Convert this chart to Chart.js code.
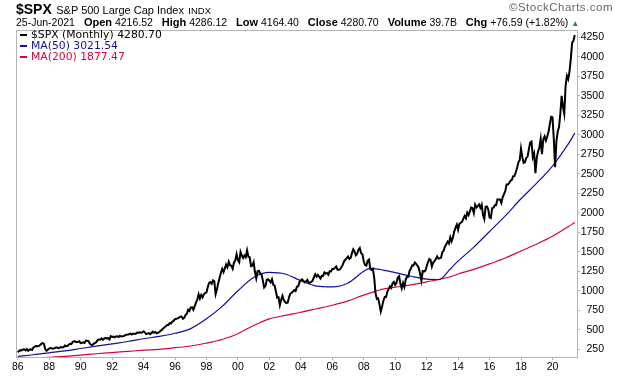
<!DOCTYPE html>
<html lang="en">
<head>
    <meta charset="UTF-8">
    <title>$SPX Monthly</title>
    <script src="https://cdn.jsdelivr.net/npm/chart.js"></script>
    <style>
        body {
            margin: 0;
            background: #fff;
            font-family: Arial, "Liberation Sans", sans-serif;
            color: #000;
        }
        .wrap {
            position: relative;
            width: 620px;
            height: 376px;
            overflow: hidden;
        }
        canvas {
            position: absolute;
            left: 0;
            top: 0;
        }
        .row {
            position: absolute;
            white-space: nowrap;
        }
        .sym { font-size: 14px; font-weight: bold; }
        .name { font-size: 11px; }
        .exch { font-size: 9.5px; }
        .brand { font-size: 11.5px; color: #666; letter-spacing: 0.5px; }
        .quote { font-size: 10.5px; }
        .quote b { font-size: 11px; margin-left: 6px; }
        .up { color: #1a8a2a; font-size: 8px; }
        .legend {
            position: absolute;
            left: 20px;
            font-family: "DejaVu Sans", Verdana, sans-serif;
            font-size: 10.8px;
            white-space: nowrap;
            line-height: 11px;
        }
        .legend i {
            display: inline-block;
            width: 7px;
            height: 2px;
            vertical-align: middle;
            margin-right: 4px;
        }
    </style>
</head>
<body>
<div class="wrap">
    <canvas id="spxChart" width="620" height="376"></canvas>

    <div class="row" style="left:16px; top:0px;">
        <span class="sym">$SPX</span> <span class="name">S&amp;P 500 Large Cap Index</span> <span class="exch">INDX</span>
    </div>
    <div class="row brand" style="right:7px; top:1px;">&copy;StockCharts.com</div>
    <div class="row quote" style="left:16px; top:16px;">
        25-Jun-2021 <b>Open</b> 4216.52 <b>High</b> 4286.12 <b>Low</b> 4164.40 <b>Close</b> 4280.70 <b>Volume</b> 39.7B <b>Chg</b> +76.59 (+1.82%) <span class="up">&#9650;</span>
    </div>

    <div class="legend" style="top:29px;">
        <div><i style="background:#000"></i>$SPX (Monthly) 4280.70</div>
        <div style="color:#10109a"><i style="background:#10109a"></i>MA(50) 3021.54</div>
        <div style="color:#d4073a"><i style="background:#d4073a"></i>MA(200) 1877.47</div>
    </div>
</div>

<script>
    // monthly closes, Jan 1986 .. Jun 2021
    const startYear = 1986;
    const spxMonthly = [
        211.8, 226.9, 238.9, 235.5, 247.4, 250.8, 236.1, 252.9, 231.3, 244.0, 249.2, 242.2,
        274.1, 284.2, 291.7, 288.4, 290.1, 304.0, 318.7, 329.8, 321.8, 251.8, 230.3, 247.1,
        257.1, 267.8, 258.9, 261.3, 262.2, 273.5, 272.0, 261.5, 271.9, 279.0, 273.7, 277.7,
        297.5, 288.9, 294.9, 309.6, 320.5, 318.0, 346.1, 351.5, 349.2, 340.4, 346.0, 353.4,
        329.1, 331.9, 339.9, 330.8, 361.2, 358.0, 356.2, 322.6, 306.1, 304.0, 322.2, 330.2,
        343.9, 367.1, 375.2, 375.3, 389.8, 371.2, 387.8, 395.4, 387.9, 392.5, 375.2, 417.1,
        408.8, 412.7, 403.7, 414.9, 415.4, 408.1, 424.2, 414.0, 417.8, 418.7, 431.4, 435.7,
        438.8, 443.4, 451.7, 440.2, 450.2, 450.5, 448.1, 463.6, 458.9, 467.8, 461.8, 466.5,
        481.6, 467.1, 445.8, 450.9, 456.5, 444.3, 458.3, 475.5, 462.7, 472.4, 453.7, 459.3,
        470.4, 487.4, 500.7, 514.7, 533.4, 544.8, 562.1, 561.9, 584.4, 581.5, 605.4, 615.9,
        636.0, 640.4, 645.5, 654.2, 669.1, 670.6, 639.9, 652.0, 687.3, 705.3, 757.0, 740.7,
        786.2, 790.8, 757.1, 801.3, 848.3, 885.1, 954.3, 899.5, 947.3, 914.6, 955.4, 970.4,
        980.3, 1049.3, 1101.8, 1111.8, 1090.8, 1133.8, 1120.7, 957.3, 1017.0, 1098.7, 1163.6, 1229.2,
        1279.6, 1238.3, 1286.4, 1335.2, 1301.8, 1372.7, 1328.7, 1320.4, 1282.7, 1362.9, 1389.0, 1469.3,
        1394.5, 1366.4, 1498.6, 1452.4, 1420.6, 1454.6, 1430.8, 1517.7, 1436.5, 1429.4, 1315.2, 1320.3,
        1366.0, 1239.9, 1160.3, 1249.5, 1255.8, 1224.4, 1211.2, 1133.6, 1040.9, 1059.8, 1139.5, 1148.1,
        1130.2, 1106.7, 1147.4, 1076.9, 1067.1, 989.8, 911.6, 916.1, 815.3, 885.8, 936.3, 879.8,
        855.7, 841.2, 848.2, 916.9, 963.6, 974.5, 990.3, 1008.0, 996.0, 1050.7, 1058.2, 1111.9,
        1131.1, 1144.9, 1126.2, 1107.3, 1120.7, 1140.8, 1101.7, 1104.2, 1114.6, 1130.2, 1173.8, 1211.9,
        1181.3, 1203.6, 1180.6, 1156.9, 1191.5, 1191.3, 1234.2, 1220.3, 1228.8, 1207.0, 1249.5, 1248.3,
        1280.1, 1280.7, 1294.8, 1310.6, 1270.1, 1270.2, 1276.7, 1303.8, 1335.9, 1377.9, 1400.6, 1418.3,
        1438.2, 1406.8, 1420.9, 1482.4, 1530.6, 1503.4, 1455.3, 1474.0, 1526.8, 1549.4, 1481.1, 1468.4,
        1378.6, 1330.6, 1322.7, 1385.6, 1400.4, 1280.0, 1267.4, 1282.8, 1166.4, 968.8, 896.2, 903.3,
        825.9, 735.1, 797.9, 872.8, 919.1, 919.3, 987.5, 1020.6, 1057.1, 1036.2, 1095.6, 1115.1,
        1073.9, 1104.5, 1169.4, 1186.7, 1089.4, 1030.7, 1101.6, 1049.3, 1141.2, 1183.3, 1180.6, 1257.6,
        1286.1, 1327.2, 1325.8, 1363.6, 1345.2, 1320.6, 1292.3, 1218.9, 1131.4, 1253.3, 1247.0, 1257.6,
        1312.4, 1365.7, 1408.5, 1397.9, 1310.3, 1362.2, 1379.3, 1406.6, 1440.7, 1412.2, 1416.2, 1426.2,
        1498.1, 1514.7, 1569.2, 1597.6, 1630.7, 1606.3, 1685.7, 1633.0, 1681.6, 1756.5, 1805.8, 1848.4,
        1782.6, 1859.5, 1872.3, 1884.0, 1923.6, 1960.2, 1930.7, 2003.4, 1972.3, 2018.1, 2067.6, 2058.9,
        1995.0, 2104.5, 2067.9, 2085.5, 2107.4, 2063.1, 2103.8, 1972.2, 1920.0, 2079.4, 2080.4, 2043.9,
        1940.2, 1932.2, 2059.7, 2065.3, 2097.0, 2098.9, 2173.6, 2171.0, 2168.3, 2126.2, 2198.8, 2238.8,
        2278.9, 2363.6, 2362.7, 2384.2, 2411.8, 2423.4, 2470.3, 2471.7, 2519.4, 2575.3, 2647.6, 2673.6,
        2823.8, 2713.8, 2640.9, 2648.1, 2705.3, 2718.4, 2816.3, 2901.5, 2914.0, 2711.7, 2760.2, 2506.9,
        2704.1, 2784.5, 2834.4, 2945.8, 2752.1, 2941.8, 2980.4, 2926.5, 2976.7, 3037.6, 3141.0, 3230.8,
        3225.5, 2954.2, 2584.6, 2912.4, 3044.3, 3100.3, 3271.1, 3500.3, 3363.0, 3270.0, 3621.6, 3756.1,
        3714.2, 3811.2, 3972.9, 4181.2, 4204.1, 4280.7
    ];

    // moving averages
    const maYears = [
        1986, 1987, 1988, 1989, 1990, 1991, 1992, 1993, 1994, 1995, 1996, 1997, 1998, 1999,
        2000, 2001, 2002, 2003, 2004, 2005, 2006, 2007, 2008, 2008.4, 2009, 2010, 2011, 2012,
        2012.8, 2013.5, 2014, 2015, 2016, 2017, 2018, 2019, 2020, 2021, 2021.42
    ];
    const ma50 = [
        160, 180, 205, 230, 260, 290, 320, 350, 385, 415, 455, 515, 640, 800,
        1000, 1170, 1235, 1215, 1130, 1060, 1050, 1100, 1250, 1288, 1275, 1232, 1186, 1150,
        1145, 1280, 1380, 1560, 1760, 1960, 2180, 2380, 2600, 2880, 3021.54
    ];
    const ma200 = [
        122, 135, 148, 160, 175, 193, 208, 223, 238, 250, 270, 292, 330, 375,
        450, 555, 640, 685, 725, 770, 815, 870, 945, 970, 1010, 1045, 1075, 1115,
        1147, 1180, 1215, 1275, 1345, 1420, 1510, 1600, 1700, 1820, 1877.47
    ];

    const xTickYears = [1986, 1988, 1990, 1992, 1994, 1996, 1998, 2000, 2002, 2004, 2006, 2008,
        2010, 2012, 2014, 2016, 2018, 2020];
    const yTickValues = [250, 500, 750, 1000, 1250, 1500, 1750, 2000, 2250, 2500, 2750, 3000,
        3250, 3500, 3750, 4000, 4250];

    const spxPoints = spxMonthly.map((v, i) => ({ x: startYear + i / 12, y: v }));
    const ma50Points = maYears.map((yr, i) => ({ x: yr, y: ma50[i] }));
    const ma200Points = maYears.map((yr, i) => ({ x: yr, y: ma200[i] }));

    // grey frame round the plot area
    const frame = {
        id: 'frame',
        afterDraw(chart) {
            const a = chart.chartArea;
            const c = chart.ctx;
            c.save();
            c.strokeStyle = '#b4b4b4';
            c.lineWidth = 1;
            c.strokeRect(a.left + 0.5, a.top + 0.5, a.right - a.left, a.bottom - a.top);
            c.restore();
        }
    };

    const tickFont = { family: 'Arial, "Liberation Sans", sans-serif', size: 10.5 };

    new Chart(document.getElementById('spxChart').getContext('2d'), {
        type: 'line',
        data: {
            datasets: [
                {
                    label: '$SPX (Monthly)',
                    data: spxPoints,
                    borderColor: '#000',
                    borderWidth: 2,
                    pointRadius: 0,
                    tension: 0,
                    order: 1
                },
                {
                    label: 'MA(50)',
                    data: ma50Points,
                    borderColor: '#10109a',
                    borderWidth: 1.2,
                    pointRadius: 0,
                    cubicInterpolationMode: 'monotone',
                    order: 2
                },
                {
                    label: 'MA(200)',
                    data: ma200Points,
                    borderColor: '#d4073a',
                    borderWidth: 1.2,
                    pointRadius: 0,
                    cubicInterpolationMode: 'monotone',
                    order: 3
                }
            ]
        },
        options: {
            responsive: false,
            animation: false,
            devicePixelRatio: 1,
            layout: { padding: { left: 16, top: 30, right: 16, bottom: 0 } },
            plugins: {
                legend: { display: false },
                tooltip: { enabled: false }
            },
            scales: {
                x: {
                    type: 'linear',
                    position: 'bottom',
                    min: 1985.89,
                    max: 2021.56,
                    afterBuildTicks: s => { s.ticks = xTickYears.map(v => ({ value: v })); },
                    afterFit: s => { s.height = 19; },
                    border: { color: '#b4b4b4' },
                    grid: { drawOnChartArea: false, tickLength: 3, color: '#b4b4b4' },
                    ticks: {
                        autoSkip: false,
                        maxRotation: 0,
                        padding: 1,
                        color: '#000',
                        font: tickFont,
                        callback: v => String(v).slice(2)
                    }
                },
                y: {
                    type: 'linear',
                    position: 'right',
                    min: 151,
                    max: 4344,
                    afterBuildTicks: s => { s.ticks = yTickValues.map(v => ({ value: v })); },
                    afterFit: s => { s.width = 27; },
                    border: { color: '#b4b4b4' },
                    grid: { drawOnChartArea: false, tickLength: 3, color: '#b4b4b4' },
                    ticks: {
                        crossAlign: 'far',
                        padding: 1,
                        color: '#000',
                        font: tickFont,
                        callback: v => String(v)
                    }
                }
            }
        },
        plugins: [frame]
    });
</script>
</body>
</html>
